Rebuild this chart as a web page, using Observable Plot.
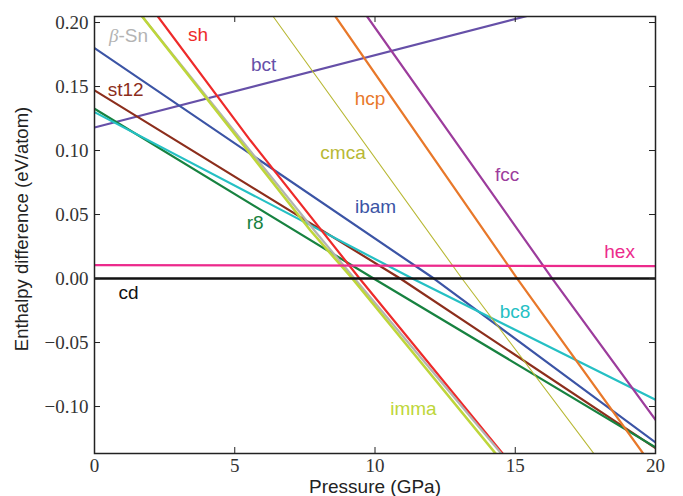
<!DOCTYPE html>
<html><head><meta charset="utf-8">
<script src="https://cdn.jsdelivr.net/npm/d3@7"></script>
<script src="https://cdn.jsdelivr.net/npm/@observablehq/plot@0.6"></script>
<style>body{margin:0;background:#fff}</style>
</head><body><div id="chart"></div>
<script>
// Axis ticks
const xTicks = [0, 5, 10, 15, 20];
const yTicks = [0.20, 0.15, 0.10, 0.05, 0.00, -0.05, -0.10];

// Enthalpy difference curves [pressure GPa, eV/atom]
const bct  = [[0, 0.118], [20, 0.231]];
const ibam = [[0, 0.180], [12.1, 0], [20, -0.128]];
const st12 = [[0, 0.147], [10.9, 0], [20, -0.1325]];
const r8   = [[0, 0.1326], [9.95, 0], [20, -0.1318]];
const bc8  = [[0, 0.130], [11.33, 0], [20, -0.0947]];
const cmca = [[6.37, 0.2047], [13.1, 0], [17.8, -0.1367]];
const hcp  = [[8.59, 0.2047], [15.07, 0], [19.56, -0.1367]];
const fcc  = [[9.72, 0.2047], [16.32, 0], [20, -0.1104]];
const sh   = [[2.26, 0.2047], [5.56, 0.1078], [9.45, 0], [14.55, -0.1367]];
const betaSn = [[1.70, 0.2047], [7.84, 0.0375], [9.27, 0], [14.5, -0.1367]];
const imma = [[1.70, 0.2047], [7.70, 0.0375], [9.19, 0], [14.3, -0.1367]];
const hex  = [[0, 0.0105], [20, 0.0097]];
const cd   = [[0, 0], [20, 0]];

const names  = ["bct", "ibam", "st12", "r8", "bc8", "cmca", "hcp", "fcc", "sh", "β-Sn", "imma", "hex", "cd"];
const curves = [bct, ibam, st12, r8, bc8, cmca, hcp, fcc, sh, betaSn, imma, hex, cd];
const colors = ["#6650a8", "#3b54a5", "#8c2e1c", "#178240", "#25c0c4", "#b8b834", "#e8782a", "#9c3c9c", "#ee2a2a", "#b3b3b3", "#bed63a", "#ec2a8c", "#111111"];
const widths = [2.2, 2.2, 2.2, 2.2, 2.2, 1.1, 2.2, 2.2, 2.2, 2.2, 2.6, 2.4, 2.6];

// Label annotations (text, pressure, enthalpy)
const labelText = ["sh", "bct", "st12", "hcp", "cmca", "fcc", "ibam", "r8", "hex", "cd", "bc8", "imma"];
const labelX    = [3.69, 6.03, 1.11, 9.82, 8.86, 14.71, 10.02, 5.73, 18.72, 1.21, 14.99, 11.37];
const labelY    = [0.190, 0.1666, 0.1471, 0.1401, 0.0979, 0.0807, 0.0557, 0.0434, 0.0208, -0.0115, -0.0261, -0.1021];

const W = 683, H = 496, mL = 94, mR = 28, mT = 16, mB = 43;
const iw = W - mL - mR, ih = H - mT - mB;
const tick = 6;
const sans = "Liberation Sans, Arial, sans-serif";
const serif = "Liberation Serif, Times New Roman, serif";
const colorOf = n => colors[names.indexOf(n)];

const lineMarks = curves.map((c, i) =>
  Plot.line(c, {x: d => d[0], y: d => d[1], stroke: colors[i], strokeWidth: widths[i], clip: true})
);

const labels = labelText.map((t, i) => ({t, x: labelX[i], y: labelY[i]}));

const chart = Plot.plot({
  width: W, height: H,
  marginLeft: mL, marginRight: mR, marginTop: mT, marginBottom: mB,
  x: {domain: [0, 20]},
  y: {domain: [-0.1367, 0.2047]},
  style: {fontFamily: sans, background: "white"},
  marks: [
    ...lineMarks,
    Plot.ruleX(xTicks, {x: d => d, insetTop: ih - tick, stroke: "#222", strokeWidth: 1}),
    Plot.ruleX(xTicks, {x: d => d, insetBottom: ih - tick, stroke: "#222", strokeWidth: 1}),
    Plot.ruleY(yTicks, {y: d => d, insetRight: iw - tick, stroke: "#222", strokeWidth: 1}),
    Plot.ruleY(yTicks, {y: d => d, insetLeft: iw - tick, stroke: "#222", strokeWidth: 1}),
    Plot.frame({stroke: "#222", strokeWidth: 1.5}),
    Plot.axisX(xTicks, {tickSize: 0, tickPadding: 5, fontFamily: serif, fontSize: 19, label: null, fill: "#333"}),
    Plot.axisY(yTicks, {tickSize: 0, tickPadding: 6, tickFormat: d3.format(".2f"), fontFamily: serif, fontSize: 19, label: null, fill: "#333"}),
    Plot.text(["Pressure (GPa)"], {frameAnchor: "bottom", dy: 33, fontSize: 19, fill: "#222", textAnchor: "middle", lineAnchor: "middle"}),
    Plot.text(["Enthalpy difference (eV/atom)"], {frameAnchor: "left", dx: -72, dy: -6, rotate: -90, fontSize: 18.5, fill: "#222", textAnchor: "middle", lineAnchor: "middle"}),
    Plot.text(labels, {x: "x", y: "y", text: "t", fill: d => colorOf(d.t), fontSize: 19, textAnchor: "middle", lineAnchor: "middle"}),
    Plot.text(["β"], {x: () => 0.856, y: () => 0.1893, fill: colorOf("β-Sn"), fontSize: 19, fontStyle: "italic", fontFamily: serif, textAnchor: "end", lineAnchor: "middle"}),
    Plot.text(["-Sn"], {x: () => 0.856, y: () => 0.1893, fill: colorOf("β-Sn"), fontSize: 19, textAnchor: "start", lineAnchor: "middle"})
  ]
});
document.getElementById("chart").appendChild(chart);
</script>
</body></html>
